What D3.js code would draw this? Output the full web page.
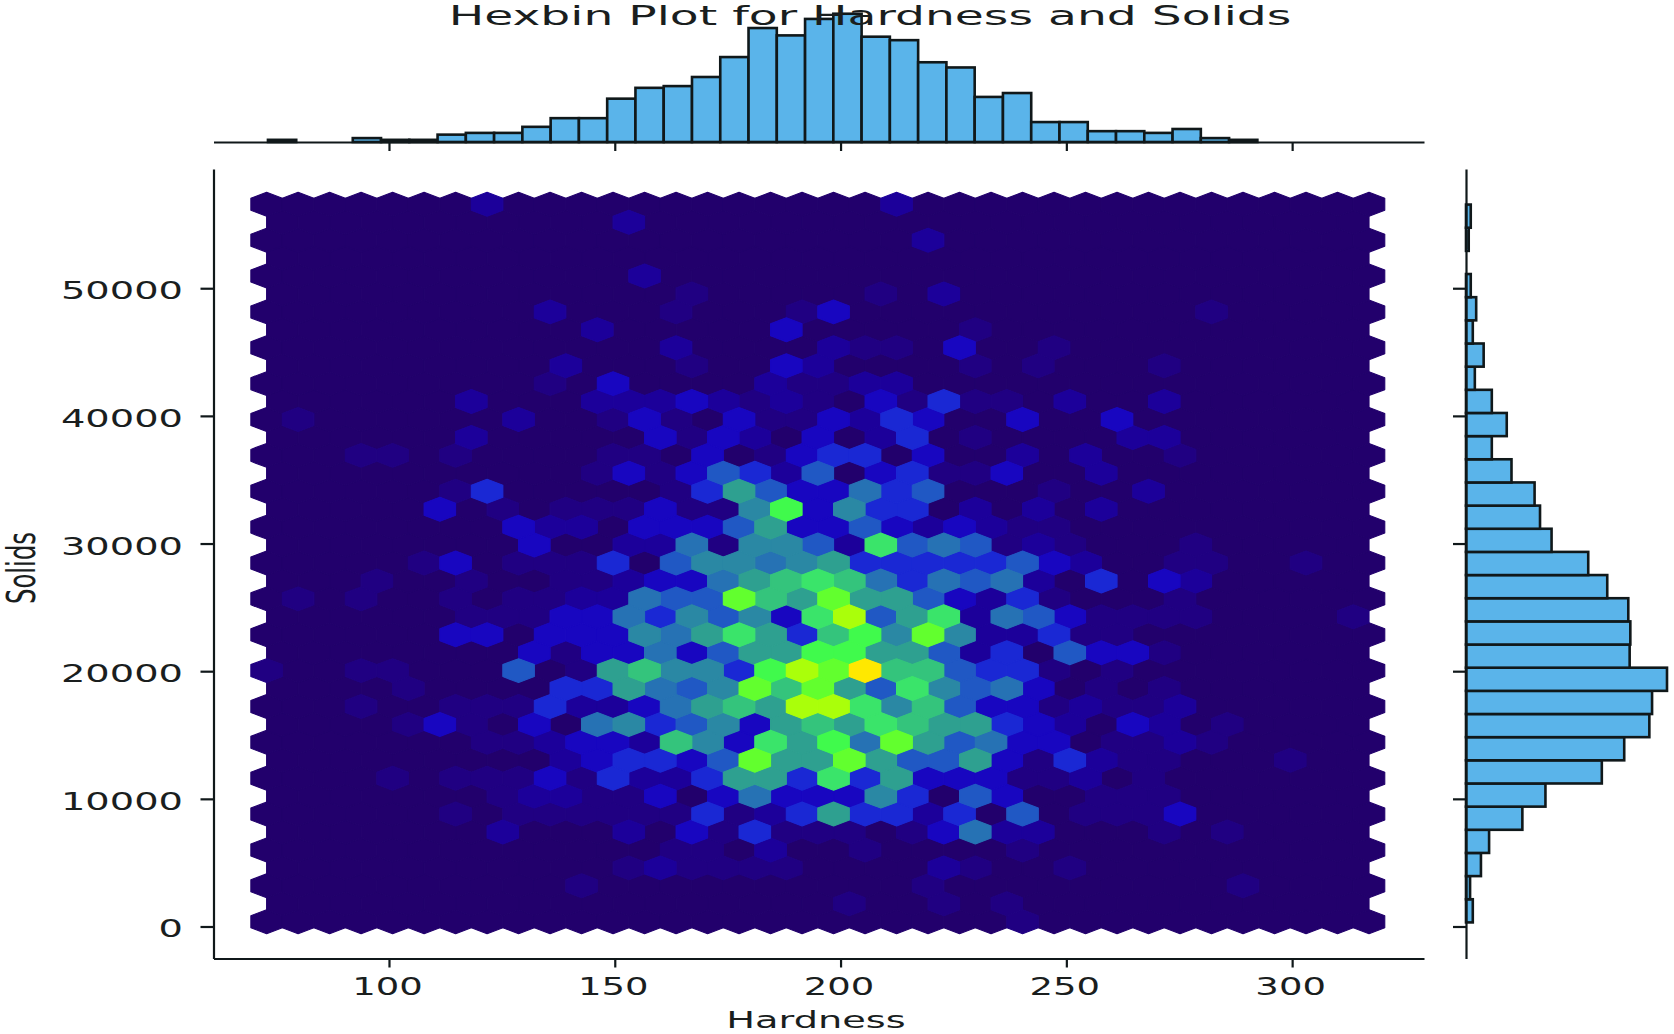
<!DOCTYPE html>
<html>
<head>
<meta charset="utf-8">
<script src="https://cdn.jsdelivr.net/npm/d3@7/dist/d3.min.js"></script>
<style>
  html, body { margin: 0; padding: 0; background: #fff; }
  svg { display: block; }
  text { font-family: "DejaVu Sans", sans-serif; fill: #1a1e1e; }
</style>
</head>
<body>
<svg id="chart" width="1674" height="1034"></svg>
<script>
// Hardness histogram: bin counts from the first edge upward
const hardnessBinStart = 73.2;
const hardnessBinWidth = 6.26;
const hardnessCounts = [5, 0, 0, 9, 5, 5, 17, 21, 21, 35, 55, 55, 100, 125, 129, 150, 196, 263, 246, 284,
  296, 243, 235, 184, 172, 104, 113, 46, 46, 25, 25, 21, 30, 9, 5];

// Solids histogram: bin counts from the lowest bin upward
const solidsBinStart = 320;
const solidsBinWidth = 1814;
const solidsCounts = [10, 6, 22, 34, 83, 117, 200, 233, 270, 274, 296, 241, 242, 239, 208, 180, 126, 109,
  101, 67, 38, 60, 38, 13, 26, 10, 15, 7, 0, 4, 7];

// Hexagon lattice in data units
const hexHardnessStart = 72.9;
const hexHardnessStep = 6.975;
const hexSolidsStart = 376;
const hexSolidsStep = 2810;
const hexColumnsEven = 36;
const hexRowCount = 41;

// Non-zero hexagon counts per lattice row, bottom row first.
// Each entry is "column:digits", one base-16 digit per consecutive column.
const hexCounts = [
  "24:1",
  "18:1 21:1 23:1",
  "10:1 21:1 31:1",
  "11:121111 21:21 25:1",
  "13:11 16:2 19:1 24:1",
  "7:2 11:2 13:314111 20:13622 28:1 30:1",
  "6:1 8:1111114124844240501113",
  "7:1221130363337405300111",
  "4:1 6:111314224884a4833311201",
  "9:234435c88c8558314211 32:1",
  "7:112332973a8b6c8563301121",
  "4:131030674573898a98843203201",
  "3:1 6:11142236898dda7953312112",
  "4:1 9:448657c9c85a75630101",
  "0:1 3:11 8:50189774bdce99544101",
  "8:313363588bb8852405331",
  "6:330333768a849b7c722411",
  "6:11133647573ad58a26531111 34:1",
  "1:1 3:1 6:1 8:1122655c98c8853241 29:1",
  "3:1 6:1 9:11233689a964656204032",
  "5:13 8:1114057767844444532 29:11 33:1",
  "8:30022617752a565121 29:1",
  "8:322033358335323211",
  "5:3 7:1 9:1113117b3744020202",
  "6:14 13:148533645 25:1 28:2",
  "10:13135425034113 26:2",
  "3:11 6:1 11:11030134403 24:2 26:2 29:1",
  "6:2 12:31320302401 27:22",
  "1:1 8:2 11:13103113243 24:3 27:3",
  "6:2 10:22232121031411 25:2 28:2",
  "9:1 11:3 16:21122",
  "9:2 13:1 16:32 22:1 24:1 28:1",
  "13:2 18:211 22:3 25:1",
  "10:2 16:3 22:1",
  "9:2 13:1 17:13 30:1",
  "13:1 19:1 21:2",
  "12:2",
  "",
  "21:2",
  "11:2",
  "7:2 20:2"
];

// Colour ramp over hexagon counts
const hexRampCounts = [0, 1, 2, 3, 4, 5, 6, 7, 8, 9, 10, 11, 12, 13, 14];
const hexRampColors = ["#22006c", "#200082", "#1c009a", "#1806c0", "#1a28d4", "#2058c4", "#2672b4", "#2a88a4",
  "#2ea090", "#34c47c", "#3ae46a", "#40fa4c", "#62ff2e", "#aaff0a", "#ffe800"];

// Tick values and labels
const hardnessTicks = [100, 150, 200, 250, 300];
const solidsTicks = [0, 10000, 20000, 30000, 40000, 50000];
const titleText = "Hexbin Plot for Hardness and Solids";
const xLabelText = "Hardness";
const yLabelText = "Solids";

// Expand the sparse rows into one record per lattice cell
function expandRows(rows) {
  const lookup = new Map();
  rows.forEach((row, k) => {
    row.split(" ").filter(Boolean).forEach(part => {
      const [start, digits] = part.split(":");
      [...digits].forEach((d, n) => lookup.set(k + "_" + (+start + n), parseInt(d, 16)));
    });
  });
  const cells = [];
  for (let k = 0; k < hexRowCount; k++) {
    const odd = k % 2 === 1;
    const columns = odd ? hexColumnsEven - 1 : hexColumnsEven;
    for (let i = 0; i < columns; i++) {
      cells.push({
        hardness: hexHardnessStart + (i + (odd ? 0.5 : 0)) * hexHardnessStep,
        solids: hexSolidsStart + (k / 2) * hexSolidsStep,
        count: lookup.get(k + "_" + i) || 0
      });
    }
  }
  return cells;
}

const svg = d3.select("#chart");
const inkColor = "#10181a";
const barFill = "#5ab4ea";

const mainLeft = 213.5, mainRight = 1424, mainTop = 169, mainBottom = 958.5;
const topBase = 142, rightBase = 1466;

const x = d3.scaleLinear().domain([61.14, 329.2]).range([mainLeft, mainRight]);
const y = d3.scaleLinear().domain([-2507, 59340]).range([mainBottom, mainTop]);
const topCount = d3.scaleLinear().domain([0, 300]).range([topBase, topBase - 130]);
const rightCount = d3.scaleLinear().domain([0, 296]).range([rightBase, rightBase + 201]);
const hexColor = d3.scaleLinear().domain(hexRampCounts).range(hexRampColors).interpolate(d3.interpolateRgb);

// Hexagon cells, low counts first so the thin seam strokes never dim a bright cell
const halfW = (x(hexHardnessStep) - x(0)) / 2;
const rowH = y(0) - y(hexSolidsStep);
const hexShape = d3.line()([
  [halfW, -rowH / 6], [halfW, rowH / 6], [0, rowH / 3],
  [-halfW, rowH / 6], [-halfW, -rowH / 6], [0, -rowH / 3]
]) + "Z";

svg.append("g").selectAll("path")
  .data(d3.sort(expandRows(hexCounts), d => d.count))
  .join("path")
  .attr("d", hexShape)
  .attr("transform", d => `translate(${x(d.hardness)},${y(d.solids)})`)
  .attr("fill", d => hexColor(d.count))
  .attr("stroke", d => hexColor(d.count))
  .attr("stroke-width", 1.1)
  .attr("stroke-linejoin", "round");

// Marginal histograms
svg.append("g").selectAll("rect")
  .data(hardnessCounts.map((count, i) => ({ count, i })).filter(d => d.count > 0))
  .join("rect")
  .attr("x", d => x(hardnessBinStart + d.i * hardnessBinWidth))
  .attr("width", x(hardnessBinWidth) - x(0))
  .attr("y", d => topCount(d.count))
  .attr("height", d => topBase - topCount(d.count))
  .attr("fill", barFill)
  .attr("stroke", inkColor)
  .attr("stroke-width", 2.6);

svg.append("g").selectAll("rect")
  .data(solidsCounts.map((count, i) => ({ count, i })).filter(d => d.count > 0))
  .join("rect")
  .attr("x", rightBase)
  .attr("width", d => rightCount(d.count) - rightBase)
  .attr("y", d => y(solidsBinStart + (d.i + 1) * solidsBinWidth))
  .attr("height", y(0) - y(solidsBinWidth))
  .attr("fill", barFill)
  .attr("stroke", inkColor)
  .attr("stroke-width", 2.6);

// Restyle an axis: heavier strokes and horizontally widened tick labels
function styleAxis(g, labelTransform, anchor) {
  g.selectAll(".domain, .tick line").attr("stroke", inkColor).attr("stroke-width", 2.2);
  g.selectAll(".tick text")
    .attr("x", null).attr("y", null).attr("dx", null).attr("dy", null)
    .attr("font-size", 24)
    .attr("text-anchor", anchor)
    .attr("transform", labelTransform);
}

const xAxis = d3.axisBottom(x).tickValues(hardnessTicks).tickSizeOuter(0).tickSizeInner(9).tickFormat(d3.format("d"));
const yAxis = d3.axisLeft(y).tickValues(solidsTicks).tickSizeOuter(0).tickSizeInner(13).tickFormat(d3.format("d"));

svg.append("g").attr("transform", `translate(0,${mainBottom})`).call(xAxis)
  .call(g => styleAxis(g, "translate(-2,36.5) scale(1.54,1)", "middle"));
svg.append("g").attr("transform", `translate(${mainLeft},0)`).call(yAxis)
  .call(g => styleAxis(g, "translate(-30.5,10.5) scale(1.6,1)", "end"));

// Marginal axes carry ticks and no labels
svg.append("g").attr("transform", `translate(0,${topBase})`)
  .call(d3.axisBottom(x).tickValues(hardnessTicks).tickSizeOuter(0).tickSizeInner(9).tickFormat(""))
  .call(g => g.selectAll(".domain, .tick line").attr("stroke", inkColor).attr("stroke-width", 2.2));
svg.append("g").attr("transform", `translate(${rightBase},0)`)
  .call(d3.axisLeft(y).tickValues(solidsTicks).tickSizeOuter(0).tickSizeInner(13).tickFormat(""))
  .call(g => g.selectAll(".domain, .tick line").attr("stroke", inkColor).attr("stroke-width", 2.2));

// Titles
svg.append("text").text(titleText)
  .attr("text-anchor", "middle").attr("font-size", 26.3)
  .attr("transform", "translate(870,24.6) scale(1.794,1)");
svg.append("text").text(xLabelText)
  .attr("text-anchor", "middle").attr("font-size", 23.5)
  .attr("transform", "translate(816,1028.4) scale(1.63,1)");
svg.append("text").text(yLabelText)
  .attr("text-anchor", "middle").attr("font-size", 24.4)
  .attr("transform", "translate(35,568) scale(1.62,1) rotate(-90)");
</script>
</body>
</html>
